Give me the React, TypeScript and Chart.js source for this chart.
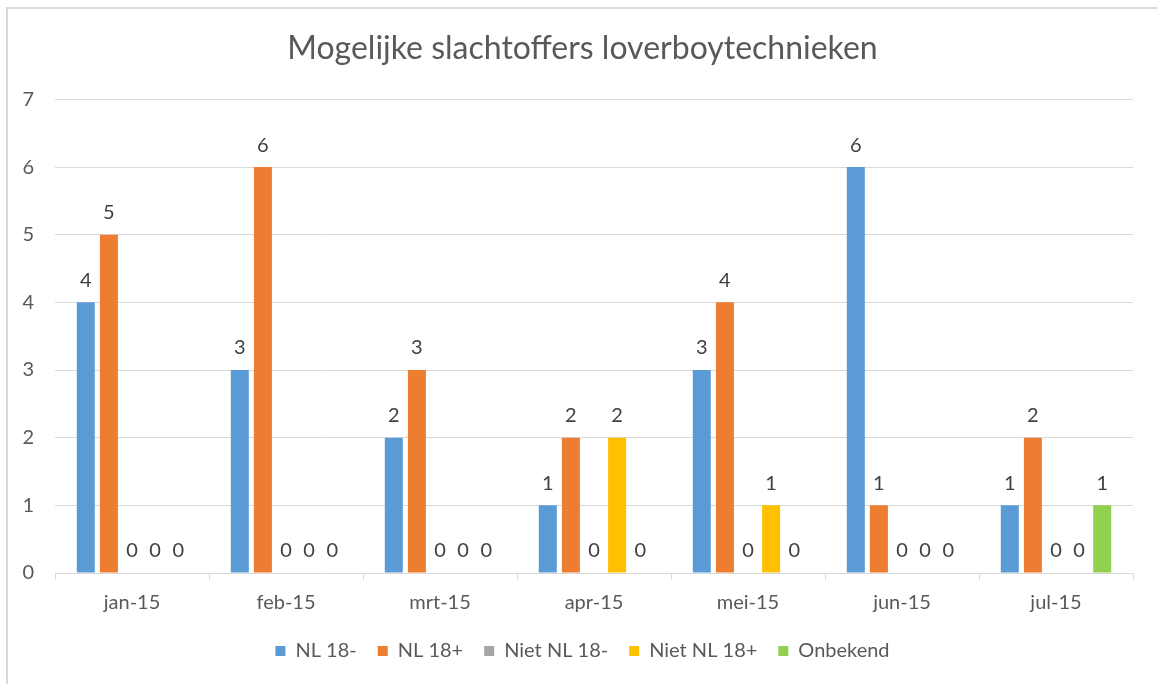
import React, { useEffect, useRef } from "react";
import { Chart, registerables } from "chart.js";

Chart.register(...registerables);

const categories = ["jan-15", "feb-15", "mrt-15", "apr-15", "mei-15", "jun-15", "jul-15"];
const nl18min = [4, 3, 2, 1, 3, 6, 1];
const nl18plus = [5, 6, 3, 2, 4, 1, 2];
const nietNl18min = [0, 0, 0, 0, 0, 0, 0];
const nietNl18plus = [0, 0, 0, 2, 1, 0, 0];
const onbekend = [0, 0, 0, 0, 0, 0, 1];
const seriesNames = ["NL 18-", "NL 18+", "Niet NL 18-", "Niet NL 18+", "Onbekend"];
const seriesColors = ["#5B9BD5", "#ED7D31", "#A5A5A5", "#FFC000", "#92D050"];
const yTicks = [0, 1, 2, 3, 4, 5, 6, 7];

const FONT = "Lato, 'Open Sans', sans-serif";

const dataLabelPlugin = {
  id: "dataLabels",
  afterDatasetsDraw(chart: any) {
    const ctx = chart.ctx;
    ctx.save();
    ctx.font = `20px ${FONT}`;
    ctx.fillStyle = "#404040";
    ctx.textAlign = "center";
    ctx.textBaseline = "middle";
    chart.data.datasets.forEach((ds: any, di: number) => {
      const meta = chart.getDatasetMeta(di);
      meta.data.forEach((el: any, i: number) => {
        const v = ds.data[i];
        if (v === null || v === undefined) return;
        ctx.fillText(String(v), el.x, el.y - 22);
      });
    });
    ctx.restore();
  },
};

export default function App() {
  const ref = useRef<HTMLCanvasElement>(null);
  useEffect(() => {
    if (!ref.current) return;
    const seriesData = [nl18min, nl18plus, nietNl18min, nietNl18plus, onbekend];
    const chart = new Chart(ref.current, {
      type: "bar",
      data: {
        labels: categories,
        datasets: seriesData.map((d, i) => ({
          label: seriesNames[i],
          data: d,
          backgroundColor: seriesColors[i],
          borderWidth: 0,
          categoryPercentage: 0.75,
          barPercentage: 0.78,
        })),
      },
      options: {
        responsive: false,
        animation: false,
        layout: { padding: { left: 8, right: 0, top: 0, bottom: 13 } },
        plugins: {
          title: {
            display: true,
            text: "Mogelijke slachtoffers loverboytechnieken",
            color: "#595959",
            font: { family: FONT, size: 32, weight: "normal" as any },
            padding: { top: 29, bottom: 32 },
          },
          legend: {
            position: "bottom",
            labels: {
              boxWidth: 10,
              boxHeight: 10,
              color: "#595959",
              font: { family: FONT, size: 20 },
              padding: 21,
            },
          },
          tooltip: { enabled: false },
        },
        scales: {
          x: {
            grid: {
              display: true,
              drawOnChartArea: false,
              drawTicks: true,
              tickLength: 7,
              color: "#D9D9D9",
              offset: true,
            },
            border: { display: true, color: "#D9D9D9" },
            ticks: { color: "#595959", font: { family: FONT, size: 20 }, padding: 11 },
            afterFit: (scale: any) => {
              scale.height = 47;
            },
          },
          y: {
            min: yTicks[0],
            max: yTicks[yTicks.length - 1],
            ticks: { stepSize: 1, color: "#595959", font: { family: FONT, size: 20 }, padding: 21 },
            grid: { color: "#D9D9D9", drawTicks: false },
            border: { display: false },
            afterFit: (scale: any) => {
              scale.width = 47;
            },
          },
          yRight: {
            position: "right",
            display: true,
            grid: { display: false, drawTicks: false },
            border: { display: false },
            ticks: { display: false },
            afterFit: (scale: any) => {
              scale.width = 24;
            },
          },
        },
      },
      plugins: [dataLabelPlugin],
    });
    return () => chart.destroy();
  }, []);
  return (
    <div style={{ position: "fixed", left: 0, top: 0, width: 1157, height: 684, background: "#fff", overflow: "hidden" }}>
      <canvas ref={ref} width={1157} height={684} style={{ position: "absolute", left: 0, top: 0 }} />
      <div
        style={{
          position: "absolute",
          left: 6,
          top: 7,
          width: 1170,
          height: 700,
          borderLeft: "2px solid #D9D9D9",
          borderTop: "2px solid #D9D9D9",
          pointerEvents: "none",
        }}
      />
    </div>
  );
}
